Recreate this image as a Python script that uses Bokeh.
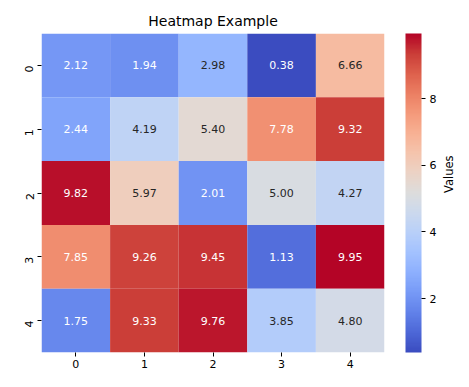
import math
import numpy as np
from bokeh.plotting import figure
from bokeh.models import (ColumnDataSource, LinearColorMapper, ColorBar, FixedTicker,
                          Range1d, LinearAxis)
from bokeh.embed import file_html
from bokeh.resources import INLINE

# ---- data ----
rows = [0, 1, 2, 3, 4]
cols = [0, 1, 2, 3, 4]
values = [
    [2.12, 1.94, 2.98, 0.38, 6.66],
    [2.44, 4.19, 5.40, 7.78, 9.32],
    [9.82, 5.97, 2.01, 5.00, 4.27],
    [7.85, 9.26, 9.45, 1.13, 9.95],
    [1.75, 9.33, 9.76, 3.85, 4.80],
]
x_tick_labels = ["0", "1", "2", "3", "4"]
y_tick_labels = ["0", "1", "2", "3", "4"]
cbar_ticks = [2, 4, 6, 8]
title_text = "Heatmap Example"
cbar_label = "Values"

# ---- coolwarm palette (anchors every 1/16) ----
cw_r = [0.2298, 0.3039, 0.3830, 0.4667, 0.5530, 0.6392, 0.7222, 0.7987, 0.8654,
        0.9241, 0.9589, 0.9700, 0.9580, 0.9239, 0.8692, 0.7956, 0.7057]
cw_g = [0.2987, 0.4065, 0.5094, 0.6046, 0.6889, 0.7596, 0.8140, 0.8498, 0.8654,
        0.8274, 0.7698, 0.6943, 0.6028, 0.4973, 0.3783, 0.2413, 0.0156]
cw_b = [0.7537, 0.8450, 0.9174, 0.9682, 0.9954, 0.9982, 0.9766, 0.9317, 0.8654,
        0.7745, 0.6780, 0.5794, 0.4818, 0.3880, 0.3003, 0.2205, 0.1502]
anch = np.linspace(0, 1, len(cw_r))
t = np.linspace(0, 1, 256)
R = np.interp(t, anch, cw_r)
G = np.interp(t, anch, cw_g)
B = np.interp(t, anch, cw_b)
palette = ["#%02x%02x%02x" % (int(round(r * 255)), int(round(g * 255)), int(round(b * 255)))
           for r, g, b in zip(R, G, B)]

arr = np.array(values)
vmin, vmax = float(arr.min()), float(arr.max())


def lum(r, g, b):
    c = np.array([r, g, b])
    c = np.where(c <= 0.03928, c / 12.92, ((c + 0.055) / 1.055) ** 2.4)
    return 0.2126 * c[0] + 0.7152 * c[1] + 0.0722 * c[2]


xs, ys, vs, labels, tcolors = [], [], [], [], []
for i in rows:
    for j in cols:
        v = values[i][j]
        idx = min(255, int((v - vmin) / (vmax - vmin) * 256))
        xs.append(j)
        ys.append(i)
        vs.append(v)
        labels.append("%.2f" % v)
        tcolors.append("#262626" if lum(R[idx], G[idx], B[idx]) > 0.408 else "#ffffff")

src = ColumnDataSource(dict(x=xs, y=ys, v=vs, label=labels, tc=tcolors))
mapper = LinearColorMapper(palette=palette, low=vmin, high=vmax)

FONT = "DejaVu Sans"
FS = "11px"

p = figure(frame_width=343, frame_height=319,
           x_range=Range1d(-0.5, 4.5), y_range=Range1d(4.5, -0.5),
           output_backend="svg", toolbar_location=None,
           min_border_left=41, min_border_top=33, min_border_right=0, min_border_bottom=21,
           title=title_text)
p.title.align = "center"
p.title.text_font = FONT
p.title.text_font_size = "14px"
p.title.text_font_style = "normal"
p.title.text_color = "#000000"
p.outline_line_color = None
p.grid.visible = False
p.background_fill_color = "white"
p.border_fill_color = "white"

p.rect(x="x", y="y", width=1, height=1, source=src,
       fill_color={"field": "v", "transform": mapper}, line_color=None)
p.text(x="x", y="y", text="label", source=src, text_color="tc",
       text_align="center", text_baseline="middle", text_font_size=FS,
       text_font={"value": FONT})

for ax in (p.xaxis[0], p.yaxis[0]):
    ax.ticker = FixedTicker(ticks=cols)
    ax.axis_line_color = None
    ax.major_tick_in = 0
    ax.major_tick_out = 4
    ax.minor_tick_line_color = None
    ax.major_tick_line_color = "#000000"
    ax.major_label_text_font = FONT
    ax.major_label_text_font_size = FS
    ax.major_label_text_color = "#000000"
    ax.major_label_standoff = 3
p.yaxis[0].major_label_standoff = 8
p.xaxis[0].major_label_overrides = {c: l for c, l in zip(cols, x_tick_labels)}
p.yaxis[0].major_label_overrides = {r: l for r, l in zip(rows, y_tick_labels)}
p.yaxis[0].major_label_orientation = math.pi / 2

cb = ColorBar(color_mapper=mapper, ticker=FixedTicker(ticks=cbar_ticks), width=16,
              height=319, location=(21, 0),
              padding=0, margin=0, bar_line_color=None, border_line_color=None,
              background_fill_color=None,
              major_tick_in=0, major_tick_out=4, major_tick_line_color="#000000",
              minor_tick_line_color=None, label_standoff=4,
              major_label_text_font=FONT, major_label_text_font_size=FS,
              major_label_text_color="#000000")
p.add_layout(cb, "right")

lab_axis = LinearAxis(axis_label=cbar_label, ticker=FixedTicker(ticks=[]),
                      axis_line_color=None, major_tick_line_color=None,
                      minor_tick_line_color=None, major_label_text_font_size="1px",
                      major_tick_out=0, major_tick_in=0, major_label_standoff=0,
                      axis_label_standoff=9,
                      axis_label_text_font=FONT, axis_label_text_font_size="11.5px",
                      axis_label_text_font_style="normal", axis_label_text_color="#000000")
if "axis_label_orientation" in LinearAxis.properties():
    lab_axis.axis_label_orientation = math.pi / 2
p.add_layout(lab_axis, "right")

open("out.html", "w").write(file_html(p, INLINE))
